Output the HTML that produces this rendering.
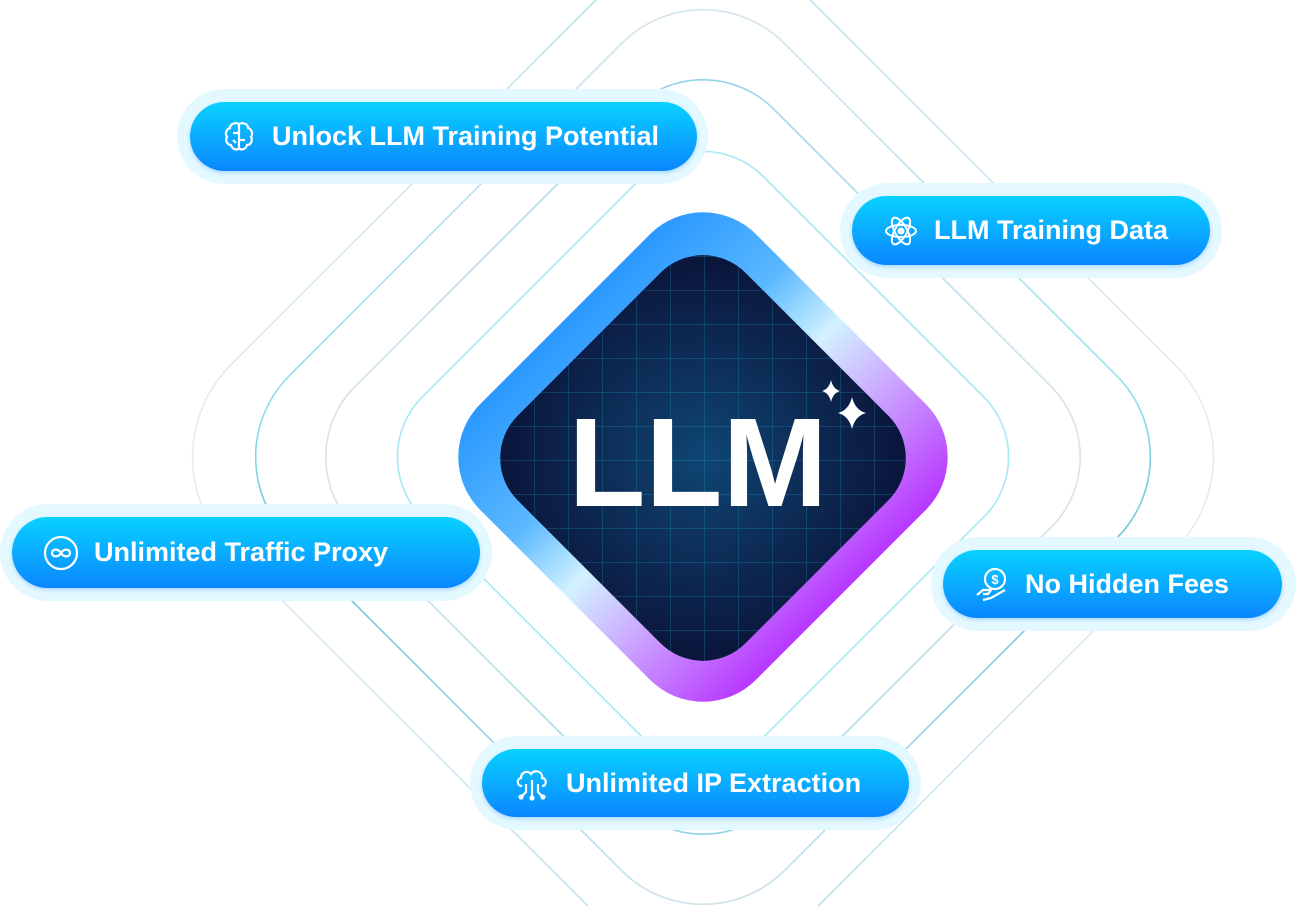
<!DOCTYPE html>
<html><head><meta charset="utf-8"><style>
html,body{margin:0;padding:0;background:#fff;width:1296px;height:906px;overflow:hidden;}
body{position:relative;font-family:"Liberation Sans",sans-serif;}
.halo{position:absolute;border-radius:50px;background:#e4f9ff;}
.pill{position:absolute;border-radius:40px;background:linear-gradient(180deg,#08d2ff 0%,#0aa8ff 55%,#0a86ff 100%);color:#fff;font-weight:bold;font-size:27px;display:flex;align-items:center;box-shadow:0 2px 4px rgba(0,120,255,0.25);}
.pill svg{margin-right:14px;flex:none}
</style></head><body>
<svg width="1296" height="906" style="position:absolute;left:0;top:0;display:block">
<defs>
<linearGradient id="ring" x1="0" y1="0" x2="1" y2="1">
<stop offset="0" stop-color="#d8e2ea"/><stop offset="0.45" stop-color="#7ad8ec"/><stop offset="0.6" stop-color="#48b8d6"/><stop offset="1" stop-color="#d8e2ea"/></linearGradient>
<linearGradient id="ring2" x1="1" y1="0" x2="0" y2="1">
<stop offset="0" stop-color="#dfe6ec"/><stop offset="0.5" stop-color="#8fd4e6"/><stop offset="1" stop-color="#dfe6ec"/></linearGradient>
<linearGradient id="frame" x1="0" y1="0.5" x2="1" y2="0.5">
<stop offset="0" stop-color="#2a98ff"/><stop offset="0.3" stop-color="#5ab8ff"/><stop offset="0.5" stop-color="#d2f2ff"/><stop offset="0.7" stop-color="#cba8ff"/><stop offset="1" stop-color="#b838ff"/></linearGradient>
<radialGradient id="dark" cx="0.5" cy="0.5" r="0.6">
<stop offset="0" stop-color="#0f4674"/><stop offset="1" stop-color="#0b163c"/></radialGradient>
<pattern id="grid" width="34" height="34" patternUnits="userSpaceOnUse" x="500" y="256">
<path d="M0 0V34M0 0H34" stroke="#1fb6d8" stroke-opacity="0.35" stroke-width="1.2" fill="none"/></pattern>
<clipPath id="clipD"><rect x="-161" y="-161" width="322" height="322" rx="60" transform="translate(703,458) rotate(45)"/></clipPath>
</defs>
<g fill="none" stroke-width="1.6">
<rect x="-399" y="-399" width="798" height="798" rx="130" transform="translate(703,457) rotate(45)" stroke="url(#ring2)" opacity="0.7"/>
<rect x="-350" y="-350" width="700" height="700" rx="115" transform="translate(703,457) rotate(45)" stroke="url(#ring)" opacity="0.85"/>
<rect x="-296" y="-296" width="592" height="592" rx="100" transform="translate(703,457) rotate(45)" stroke="url(#ring2)"/>
<rect x="-241" y="-241" width="482" height="482" rx="85" transform="translate(703,457) rotate(45)" stroke="#a6e8f4"/>
</g>
<rect x="-195" y="-195" width="390" height="390" rx="75" transform="translate(703,457) rotate(45)" fill="url(#frame)"/>
<rect x="-161" y="-161" width="322" height="322" rx="60" transform="translate(703,458) rotate(45)" fill="url(#dark)"/>
<rect x="480" y="236" width="450" height="450" fill="url(#grid)" clip-path="url(#clipD)"/>
<text x="698" y="506" text-anchor="middle" font-family="Liberation Sans" font-weight="bold" font-size="126" fill="#fff">LLM</text>
<path d="M831 380 Q833 389 840 391 Q833 393 831 402 Q829 393 822 391 Q829 389 831 380Z" fill="#fff"/>
<path d="M852 397 Q855 410 866 413 Q855 416 852 429 Q849 416 838 413 Q849 410 852 397Z" fill="#fff"/>
</svg>

<div class="halo" style="left:177px;top:89px;width:531px;height:95px"></div>
<div class="pill" style="left:190px;top:102px;width:507px;height:69px;padding-left:30px;box-sizing:border-box">
<svg width="38" height="38" viewBox="0 0 38 38" fill="none" stroke="#fff" stroke-width="2.2"><path d="M19 6C15 4 10 6 10 10C6 11 5 16 7 19C5 22 7 27 11 27C12 31 17 33 19 30C21 33 26 31 27 27C31 27 33 22 31 19C33 16 32 11 28 10C28 6 23 4 19 6Z"/><path d="M19 6V30M13 15H19M19 22H25M13 22l3 3"/></svg>Unlock LLM Training Potential</div>

<div class="halo" style="left:840px;top:183px;width:382px;height:95px"></div>
<div class="pill" style="left:852px;top:196px;width:358px;height:69px;padding-left:30px;box-sizing:border-box">
<svg width="38" height="38" viewBox="0 0 38 38" fill="none" stroke="#fff" stroke-width="2"><ellipse cx="19" cy="19" rx="15" ry="6"/><ellipse cx="19" cy="19" rx="15" ry="6" transform="rotate(60 19 19)"/><ellipse cx="19" cy="19" rx="15" ry="6" transform="rotate(120 19 19)"/><circle cx="19" cy="19" r="2.5" fill="#fff"/></svg>LLM Training Data</div>

<div class="halo" style="left:0px;top:504px;width:492px;height:97px"></div>
<div class="pill" style="left:12px;top:517px;width:468px;height:71px;padding-left:30px;box-sizing:border-box">
<svg width="38" height="38" viewBox="0 0 38 38" fill="none" stroke="#fff" stroke-width="2.2"><circle cx="19" cy="19" r="16"/><path d="M19 19C16 14 10 15 10 19C10 23 16 24 19 19C22 14 28 15 28 19C28 23 22 24 19 19Z"/></svg>Unlimited Traffic Proxy</div>

<div class="halo" style="left:931px;top:537px;width:365px;height:94px"></div>
<div class="pill" style="left:943px;top:550px;width:339px;height:68px;padding-left:30px;box-sizing:border-box">
<svg width="38" height="38" viewBox="0 0 38 38" fill="none" stroke="#fff" stroke-width="2.2"><circle cx="22" cy="14" r="10"/><text x="22" y="19" font-size="13" fill="#fff" stroke="none" text-anchor="middle" font-family="Liberation Sans" font-weight="bold">$</text><path d="M4 30l6-5h8l-3 4h-5M10 35l8-2 14-8"/></svg>No Hidden Fees</div>

<div class="halo" style="left:470px;top:736px;width:451px;height:94px"></div>
<div class="pill" style="left:482px;top:749px;width:427px;height:68px;padding-left:30px;box-sizing:border-box">
<svg width="40" height="38" viewBox="0 0 40 38" fill="none" stroke="#fff" stroke-width="2.2"><path d="M10 22C5 22 4 15 9 14C9 8 16 6 19 10C22 5 31 7 30 14C35 14 35 22 30 22"/><path d="M20 16V34M14 20V28l-4 4M26 20V28l4 4"/><circle cx="20" cy="34" r="1.5"/><circle cx="9" cy="33" r="1.5"/><circle cx="31" cy="33" r="1.5"/></svg>Unlimited IP Extraction</div>
</body></html>
